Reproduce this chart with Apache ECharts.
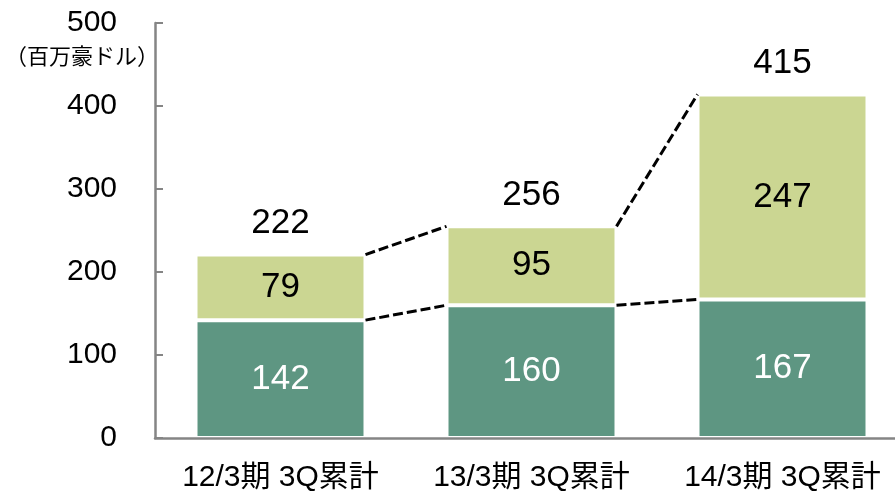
<!DOCTYPE html>
<html>
<head>
<meta charset="utf-8">
<script src="https://cdn.jsdelivr.net/npm/echarts@6/dist/echarts.min.js"></script>
<style>
  html, body { margin: 0; padding: 0; background: #fff; }
  #chart { width: 895px; height: 491px; }
</style>
</head>
<body>
<div id="chart"></div>
<script>
// Chart data
const categories = ["12/3期 3Q累計", "13/3期 3Q累計", "14/3期 3Q累計"];
const baseValues = [142, 160, 167];
const topValues = [79, 95, 247];
const totals = [222, 256, 415];
const yTicks = [0, 100, 200, 300, 400, 500];
const unitLabel = "（百万豪ドル）";

const font = "'Liberation Sans', Arial, 'Noto Sans CJK JP', sans-serif";
const darkGreen = "#5e9682";
const lightGreen = "#cbd692";
const axisGray = "#858585";
const barW = 170;

// Connector lines between neighbouring bars (bottom segment top and stack top)
let connectors = [];
for (let i = 0; i < categories.length - 1; i++) {
  connectors.push([i, baseValues[i], baseValues[i + 1]]);
  connectors.push([
    i,
    baseValues[i] + topValues[i],
    baseValues[i + 1] + topValues[i + 1],
  ]);
}

let myChart = echarts.init(document.getElementById("chart"));

let option = {
  animation: false,
  textStyle: { fontFamily: font },
  // grid runs past the right edge of the canvas, like the original
  grid: {
    left: 155,
    width: 753,
    top: 23,
    bottom: 53,
    containLabel: false,
    outerBoundsMode: "none",
  },
  graphic: [
    {
      type: "text",
      left: 5,
      top: 47,
      style: { text: unitLabel, font: "22px " + font, fill: "#000" },
    },
  ],
  xAxis: {
    type: "category",
    data: categories,
    z: 5,
    axisLine: { lineStyle: { color: axisGray, width: 2.5 } },
    axisTick: {
      inside: true,
      length: 8,
      alignWithLabel: false,
      lineStyle: { color: axisGray, width: 2 },
    },
    axisLabel: {
      interval: 0,
      color: "#000",
      fontSize: 30,
      margin: 25,
      fontFamily: font,
    },
  },
  yAxis: {
    type: "value",
    min: yTicks[0],
    max: yTicks[yTicks.length - 1],
    interval: 100,
    z: 5,
    splitLine: { show: false },
    axisLine: { show: true, lineStyle: { color: axisGray, width: 2.5 } },
    axisTick: {
      show: true,
      inside: true,
      length: 8,
      lineStyle: { color: axisGray, width: 2 },
    },
    axisLabel: { color: "#000", fontSize: 30, margin: 38, fontFamily: font },
  },
  series: [
    {
      type: "bar",
      stack: "total",
      data: baseValues,
      barWidth: barW,
      itemStyle: { color: darkGreen, borderColor: "#fff", borderWidth: 2 },
      label: {
        show: true,
        position: "inside",
        color: "#fff",
        fontSize: 35,
        fontFamily: font,
      },
    },
    {
      type: "bar",
      stack: "total",
      data: topValues,
      barWidth: barW,
      itemStyle: { color: lightGreen, borderColor: "#fff", borderWidth: 2 },
      label: {
        show: true,
        position: "inside",
        color: "#000",
        fontSize: 35,
        fontFamily: font,
      },
    },
    {
      type: "bar",
      stack: "total",
      data: totals.map(() => 0),
      barWidth: barW,
      itemStyle: { color: "transparent" },
      label: {
        show: true,
        position: "top",
        distance: 14,
        color: "#000",
        fontSize: 35,
        fontFamily: font,
        formatter: function (p) {
          return totals[p.dataIndex];
        },
      },
    },
    {
      type: "custom",
      data: connectors,
      z: 10,
      encode: { x: 0, y: 1 },
      renderItem: function (params, api) {
        let i = api.value(0);
        let p1 = api.coord([i, api.value(1)]);
        let p2 = api.coord([i + 1, api.value(2)]);
        return {
          type: "line",
          shape: {
            x1: p1[0] + barW / 2,
            y1: p1[1],
            x2: p2[0] - barW / 2,
            y2: p2[1],
          },
          style: { stroke: "#000", lineWidth: 3, lineDash: [10, 4] },
        };
      },
    },
  ],
};

myChart.setOption(option);
</script>
</body>
</html>
